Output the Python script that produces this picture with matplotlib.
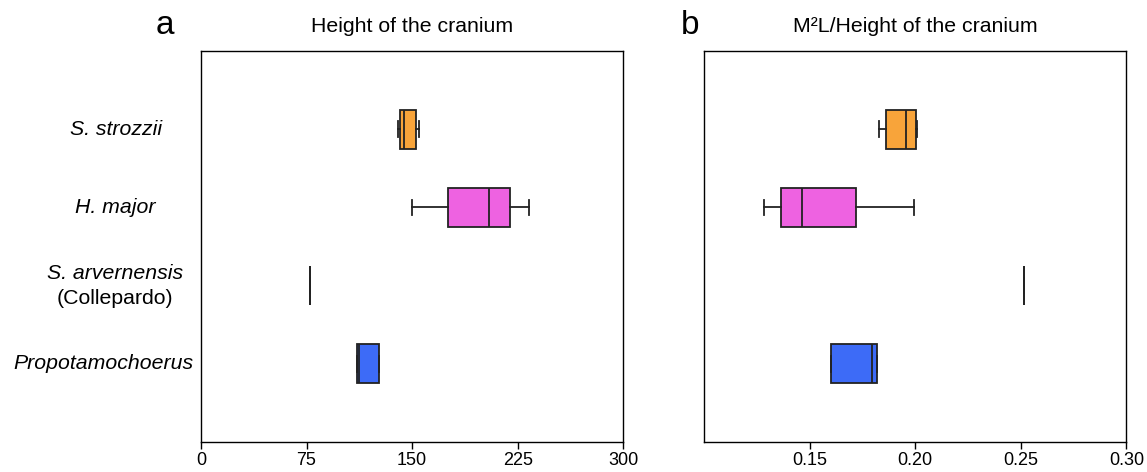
import numpy as np
import matplotlib
matplotlib.use("Agg")
import matplotlib.pyplot as plt
import matplotlib.transforms as mtransforms

plt.rcParams['font.family'] = ['Liberation Sans', 'DejaVu Sans']

# taxa, top to bottom
taxa = ["S. strozzii", "H. major", "S. arvernensis", "Propotamochoerus"]
colors = ["#F8A43A", "#EE62E1", "#3D6BF7"]
box_colors = [colors[0], colors[1], colors[2], colors[2]]

# panel a: height of the cranium  (whislo, q1, med, q3, whishi)
height_lo  = [140.3, 150.0, 77.5, 111.0]
height_q1  = [141.5, 175.6, 77.5, 111.0]
height_med = [144.3, 204.7, 77.5, 112.5]
height_q3  = [152.8, 219.7, 77.5, 126.3]
height_hi  = [155.0, 233.0, 77.5, 126.3]

# panel b: M2L / height of the cranium
ratio_lo  = [0.183, 0.1283, 0.2514, 0.160]
ratio_q1  = [0.186, 0.1366, 0.2514, 0.160]
ratio_med = [0.1958, 0.1466, 0.2514, 0.1795]
ratio_q3  = [0.2003, 0.172, 0.2514, 0.182]
ratio_hi  = [0.2010, 0.1993, 0.2514, 0.182]


def make_stats(lo, q1, med, q3, hi):
    stats = []
    for i in range(len(lo)):
        stats.append(dict(whislo=lo[i], q1=q1[i], med=med[i], q3=q3[i],
                          whishi=hi[i], fliers=[], label=taxa[i]))
    return stats


def draw_panel(ax, stats):
    pos = np.arange(len(stats))
    b = ax.bxp(stats, positions=pos, vert=False, widths=0.5, capwidths=0.2,
               patch_artist=True, showfliers=False,
               boxprops=dict(edgecolor="#222222", linewidth=1.3),
               medianprops=dict(color="#222222", linewidth=1.3),
               whiskerprops=dict(color="#222222", linewidth=1.3),
               capprops=dict(color="#222222", linewidth=1.3))
    for patch, c in zip(b['boxes'], box_colors):
        patch.set_facecolor(c)
    ax.set_ylim(4, -1)
    ax.set_yticks([])
    ax.tick_params(axis='x', labelsize=13, length=5, width=1, pad=2)
    for sp in ax.spines.values():
        sp.set_linewidth(1.0)


fig = plt.figure(figsize=(11.47, 4.72), dpi=100)
ax_a = fig.add_axes([0.1752, 0.0636, 0.3682, 0.8284])
ax_b = fig.add_axes([0.6138, 0.0636, 0.3682, 0.8284])

draw_panel(ax_a, make_stats(height_lo, height_q1, height_med, height_q3, height_hi))
ax_a.set_xlim(0, 300)
ax_a.set_xticks([0, 75, 150, 225, 300])

draw_panel(ax_b, make_stats(ratio_lo, ratio_q1, ratio_med, ratio_q3, ratio_hi))
ax_b.set_xlim(0.10, 0.30)
ax_b.set_xticks([0.15, 0.20, 0.25, 0.30])
ax_b.set_xticklabels(["0.15", "0.20", "0.25", "0.30"])

ax_a.set_title("Height of the cranium", fontsize=15.3, pad=14)
ax_b.set_title("M\u00b2L/Height of the cranium", fontsize=15.3, pad=14)

fig.text(165 / 1147, 1 - 25 / 472, "a", fontsize=24, ha='center', va='center')
fig.text(690 / 1147, 1 - 25 / 472, "b", fontsize=24, ha='center', va='center')

# species labels to the left of panel a
trans = mtransforms.blended_transform_factory(fig.transFigure, ax_a.transData)
label_x = [116, 115, 115, 103]
for i, name in enumerate(taxa):
    if name == "S. arvernensis":
        ax_a.text(label_x[i] / 1147, i - 0.16, name, transform=trans, fontsize=15.3,
                  style='italic', ha='center', va='center')
        ax_a.text(label_x[i] / 1147, i + 0.17, "(Collepardo)", transform=trans,
                  fontsize=15.3, ha='center', va='center')
    else:
        ax_a.text(label_x[i] / 1147, i, name, transform=trans, fontsize=15.3,
                  style='italic', ha='center', va='center')

fig.savefig("out.png", dpi=100)
